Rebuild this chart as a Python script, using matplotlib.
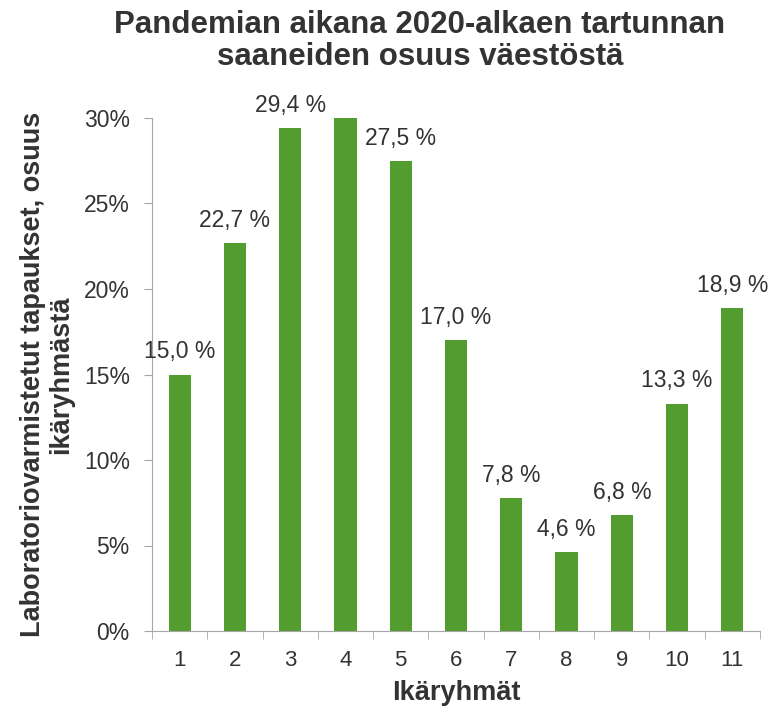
import matplotlib
matplotlib.use("Agg")
import matplotlib.pyplot as plt
from matplotlib.ticker import FuncFormatter

plt.rcParams['font.family'] = ['Liberation Sans', 'DejaVu Sans']

categories = ["1", "2", "3", "4", "5", "6", "7", "8", "9", "10", "11"]
values = [15.0, 22.7, 29.4, 30.0, 27.5, 17.0, 7.8, 4.6, 6.8, 13.3, 18.9]
labels = ["15,0 %", "22,7 %", "29,4 %", "", "27,5 %", "17,0 %", "7,8 %", "4,6 %", "6,8 %", "13,3 %", "18,9 %"]

title = "Pandemian aikana 2020-alkaen tartunnan\nsaaneiden osuus väestöstä"
ylabel = "Laboratoriovarmistetut tapaukset, osuus\nikäryhmästä"
xlabel = "Ikäryhmät"

green = "#539c2f"
textc = "#333333"
axc = "#a6a6a6"

fig = plt.figure(figsize=(7.83, 7.11), dpi=100)
ax = fig.add_axes([152/783, 80/711, 608/783, 513/711])

x = list(range(len(categories)))
ax.bar(x, values, width=0.4, color=green, zorder=2)
for xi, v, lab in zip(x, values, labels):
    if lab:
        ax.text(xi, v + 0.65, lab, ha='center', va='bottom', fontsize=16.5, color=textc)

ax.set_xlim(-0.5, len(categories) - 0.5)
ax.set_ylim(0, 30)
ax.set_yticks([0, 5, 10, 15, 20, 25, 30])
ax.yaxis.set_major_formatter(FuncFormatter(lambda v, p: f"{int(v)}%"))
ax.set_xticks(x)
ax.set_xticklabels(categories)
ax.set_xticks([i - 0.5 for i in range(len(categories) + 1)], minor=True)
ax.tick_params(axis='x', which='major', length=0, pad=14, labelsize=16, labelcolor=textc)
ax.tick_params(axis='x', which='minor', length=6, color=axc, direction='out')
ax.tick_params(axis='y', which='major', length=6, color=axc, labelsize=16.5, labelcolor=textc, pad=10)

for s in ['top', 'right']:
    ax.spines[s].set_visible(False)
for s in ['left', 'bottom']:
    ax.spines[s].set_color(axc)

ax.set_xlabel(xlabel, fontsize=19.5, fontweight='bold', color=textc, labelpad=6)
ax.set_ylabel(ylabel, fontsize=19.5, fontweight='bold', color=textc, labelpad=7, linespacing=1.1)
fig.text(420/783, 1 - 41/711, title, ha='center', va='center', fontsize=22.5, fontweight='bold', color=textc, linespacing=1.1)

fig.savefig("out.png", dpi=100)
